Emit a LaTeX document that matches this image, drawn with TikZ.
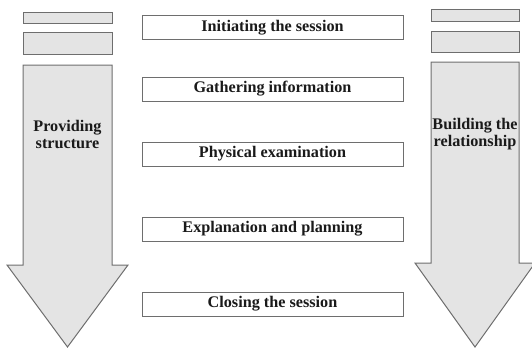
\documentclass[tikz,border=0pt]{standalone}
\usepackage{fontspec}
\setmainfont{Liberation Serif}
\usetikzlibrary{positioning}
\definecolor{cband}{HTML}{E4E4E4}
\definecolor{cedge}{HTML}{6E6E6E}
\definecolor{ctext}{HTML}{1A1A1A}
\tikzset{
  stage/.style={draw=cedge, fill=white, line width=1pt, minimum width=261pt, minimum height=24pt, inner sep=0pt, font=\bfseries\fontsize{16.2}{18}\selectfont, text=ctext},
  band/.style={draw=cedge, fill=cband, line width=1pt},
  lbl/.style={align=center, inner sep=0pt, font=\bfseries\fontsize{16.2}{17.5}\selectfont, text=ctext},
}

\begin{document}
\begin{tikzpicture}[x=1pt,y=-1pt]
\useasboundingbox (0,0) rectangle (532,348);
\clip (0,0) rectangle (532,348);
% left column
\draw[band] (23,12) rectangle (112,23);
\draw[band] (23,32) rectangle (112,54);
\draw[band] (23,65) -- (112,65) -- (112,265) -- (128,265) -- (67.5,347) -- (7,265) -- (23,265) -- cycle;
\node[lbl] (prov) at (67.5,134.5) {Providing\\structure};
% right column
\draw[band] (431,9) rectangle (519,21);
\draw[band] (431,31) rectangle (519,52);
\draw[band] (431,62) -- (519,62) -- (519,263) -- (535,263) -- (475,347) -- (415,263) -- (431,263) -- cycle;
\node[lbl] (build) at (475,134) {Building the\\relationship};
% stages
\node[stage] (init) at (272.5,27.5) {Initiating the session};
\node[stage] (gath) at (272.5,89) {Gathering information};
\node[stage] (phys) at (272.5,154) {Physical examination};
\node[stage] (expl) at (272.5,229) {Explanation and planning};
\node[stage] (clos) at (272.5,304) {Closing the session};
\end{tikzpicture}
\end{document}
